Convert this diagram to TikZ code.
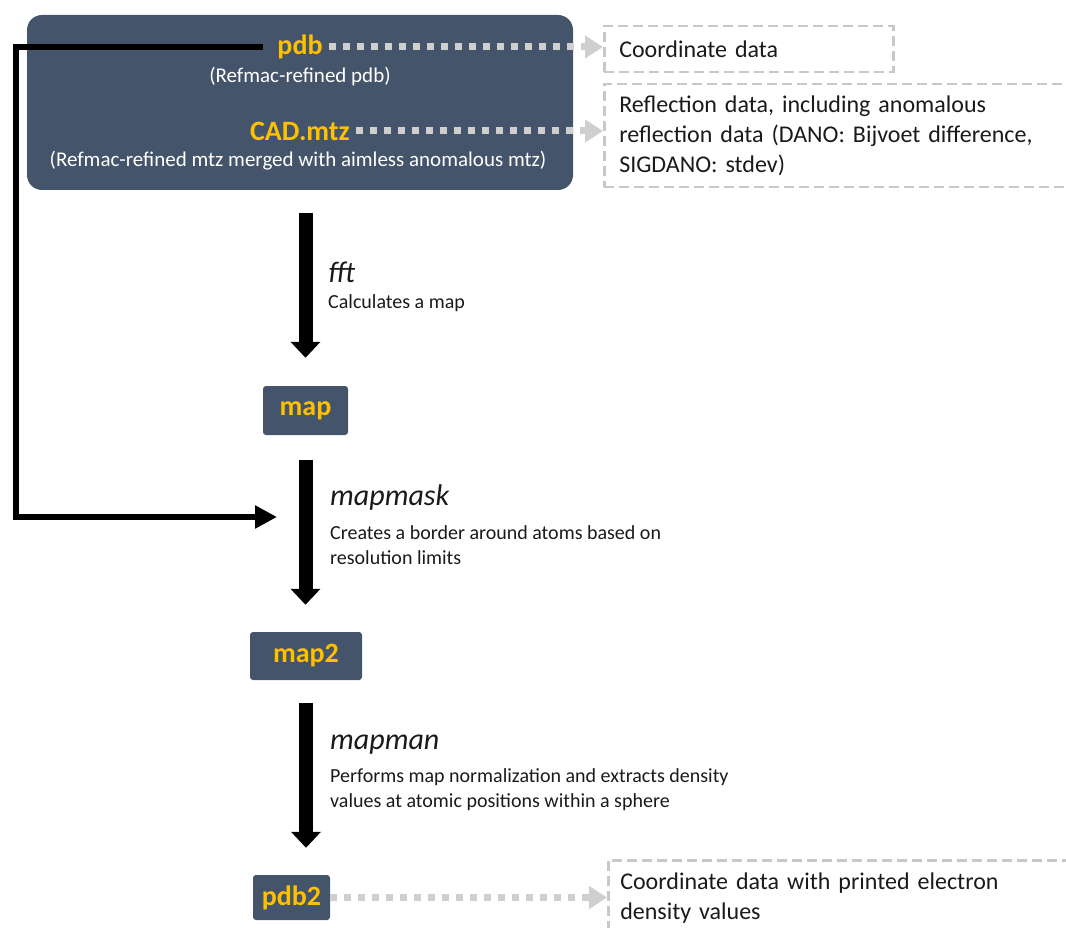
\documentclass[tikz,border=0pt]{standalone}
\usepackage{fontspec}
\setmainfont{Carlito}
\usetikzlibrary{arrows.meta}
\definecolor{slate}{HTML}{44546A}
\definecolor{amber}{HTML}{FFC000}
\definecolor{dotgray}{HTML}{D0CECE}
\definecolor{dashgray}{HTML}{C8C8C8}
\definecolor{ink}{HTML}{1A1A1A}

\begin{document}
\begin{tikzpicture}[x=1pt,y=-1pt,
  panel/.style={fill=slate, rounded corners=15pt, draw=none, inner sep=0pt},
  filebox/.style={fill=slate, rounded corners=3pt},
  fname/.style={text=amber, font=\fontsize{28}{32}\selectfont\bfseries, inner sep=3pt},
  note/.style={text=white, font=\fontsize{21}{25}\selectfont, inner sep=0pt},
  databox/.style={draw=dashgray, line width=2.5pt, dash pattern=on 10pt off 5pt,
    align=left, text=ink, font=\fontsize{24}{30}\selectfont, inner xsep=15pt, anchor=north west},
  tool/.style={text=ink, font=\fontsize{30}{34}\selectfont\itshape, anchor=west, inner sep=0pt},
  desc/.style={text=ink, font=\fontsize{20}{25}\selectfont, anchor=west, align=left, inner sep=0pt},
  flow/.style={line width=14pt, -{Triangle[width=29pt,length=16pt]}},
  feed/.style={draw=dotgray, line width=7pt, dash pattern=on 7pt off 7pt,
    -{Triangle[width=22pt,length=18pt,fill=dotgray]}},
  loopline/.style={line width=6pt, line join=miter, -{Triangle[width=22pt,length=22pt]}}
]
\useasboundingbox (0,0) rectangle (1066,928);
\clip (0,0) rectangle (1066,928);

% input files
\node[panel, minimum width=546pt, minimum height=175pt] (top) at (300,102.5) {};
\node[fname] (pdb) at (300,47) {pdb};
\node[note] (pdbnote) at (300,77) {(Refmac-refined pdb)};
\node[fname] (cad) at (300,131) {CAD.mtz};
\node[note] (cadnote) at (298,161) {(Refmac-refined mtz merged with aimless anomalous mtz)};

% content descriptions
\node[databox, minimum width=289pt, minimum height=46pt, text width=259pt] (coord) at (603,25) {Coordinate data};
\node[databox, text width=440pt, minimum height=103pt] (refl) at (603,83)
  {Reflection data, including anomalous\\reflection data (DANO: Bijvoet difference,\\SIGDANO: stdev)};
\node[databox, text width=440pt, minimum height=76pt, inner xsep=12pt] (dens) at (607,859)
  {Coordinate data with printed electron\\density values};

% intermediate and output files
\node[filebox, fname, minimum width=85pt, minimum height=49pt] (map) at (305.5,410.5) {map};
\node[filebox, fname, minimum width=112pt, minimum height=48pt] (map2) at (306,656) {map2};
\node[filebox, fname, minimum width=77pt, minimum height=45pt] (pdb2) at (291.5,897.5) {pdb2};

% processing steps
\node[tool] (fftlbl) at (328,272) {fft};
\node[desc] (fftdesc) at (328,303) {Calculates a map};
\node[tool] (mmlbl) at (330,497) {mapmask};
\node[desc] (mmdesc) at (330,545.5) {Creates a border around atoms based on\\resolution limits};
\node[tool] (mnlbl) at (330,745) {mapman};
\node[desc] (mndesc) at (330,789.5) {Performs map normalization and extracts density\\values at atomic positions within a sphere};

\draw[flow, shorten <=23pt, shorten >=28pt] (top.south -| map.north) -- (map.north);
\draw[flow, shorten <=25pt, shorten >=27pt] (map.south) -- (map.south |- map2.north);
\draw[flow, shorten <=23pt, shorten >=27pt] (map2.south) -- (map2.south |- pdb2.north);

% links to the descriptions
\draw[feed, shorten <=3pt] (pdb.east) -- (pdb.east -| coord.west);
\draw[feed, shorten <=3pt] (cad.east) -- (cad.east -| refl.west);
\draw[feed] (pdb2.east) -- (pdb2.east -| dens.west);

% model fed to mapmask
\coordinate (bend) at (16,517);
\coordinate (mmin) at (277,517);
\draw[loopline, shorten <=11pt] (pdb.west) -| (bend) -- (mmin);
\end{tikzpicture}
\end{document}
